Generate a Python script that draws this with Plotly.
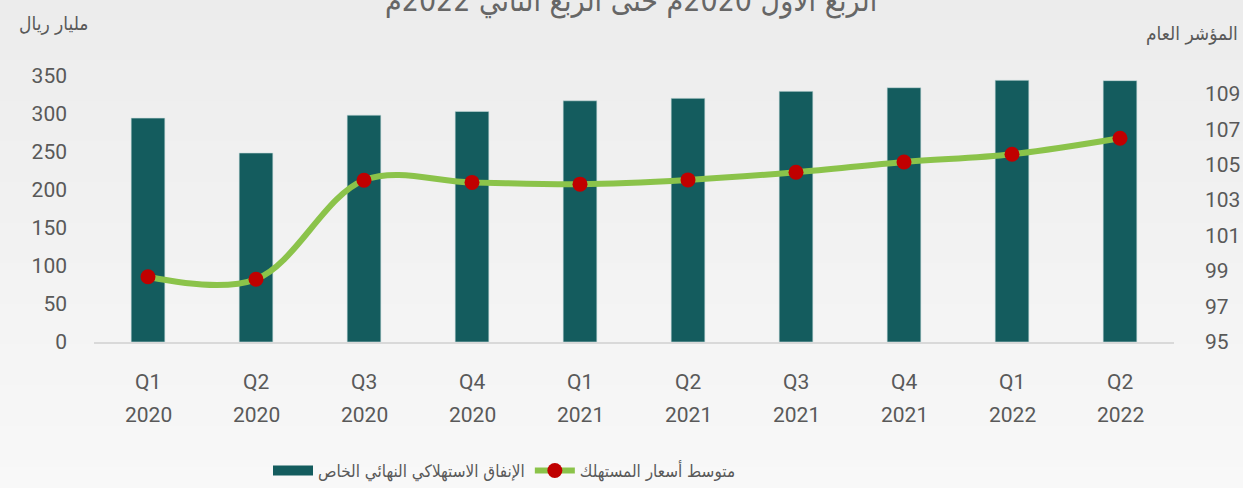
import plotly.graph_objects as go
from plotly.subplots import make_subplots

quarters = ["Q1", "Q2", "Q3", "Q4", "Q1", "Q2", "Q3", "Q4", "Q1", "Q2"]
years = ["2020", "2020", "2020", "2020", "2021", "2021", "2021", "2021", "2022", "2022"]
categories = [f"{q} {y}" for q, y in zip(quarters, years)]

spending = [294.6, 248.7, 298.5, 303.4, 317.4, 320.6, 329.8, 334.6, 344.4, 343.9]
cpi = [98.68, 98.54, 104.12, 104.0, 103.9, 104.14, 104.57, 105.15, 105.59, 106.49]

left_ticks = [0, 50, 100, 150, 200, 250, 300, 350]
right_ticks = [95, 97, 99, 101, 103, 105, 107, 109]

bar_name = "الإنفاق الاستهلاكي النهائي الخاص"
line_name = "متوسط أسعار المستهلك"
left_title = "مليار ريال"
right_title = "المؤشر العام"
title_text = "الربع الأول 2020م حتى الربع الثاني 2022م"

NUM_FONT = "Roboto, 'DejaVu Sans', sans-serif"
AR_FONT = "'DejaVu Sans Condensed', 'DejaVu Sans', sans-serif"
TXT = "#595959"
BAR_COLOR = "#145c5e"

fig = make_subplots(specs=[[{"secondary_y": True}]])

fig.add_trace(go.Bar(
    x=categories, y=spending, name=bar_name, showlegend=False,
    marker=dict(color=BAR_COLOR, line=dict(color="rgba(200,220,220,0.6)", width=1)),
), secondary_y=False)

# legend entry with a wide rectangular swatch, like the reference
fig.add_trace(go.Scatter(
    x=[None], y=[None], name=bar_name, mode="lines",
    line=dict(color=BAR_COLOR, width=15),
), secondary_y=False)

fig.add_trace(go.Scatter(
    x=categories, y=cpi, name=line_name, mode="lines+markers",
    line=dict(color="#8bc34a", width=6, shape="spline", smoothing=1.0),
    marker=dict(color="#c00000", size=15),
), secondary_y=True)

W, H = 1243, 488
L, R, T, B = 94, 69, 76, 146
ph = H - T - B

def py(pix):
    return (H - B - pix) / ph

def px(pix):
    return (pix - L) / (W - L - R)

# background gradient bands
shapes = []
n = 24
for i in range(n):
    c = int(round(0xec + (0xf8 - 0xec) * i / (n - 1)))
    shapes.append(dict(type="rect", xref="paper", yref="paper",
                       x0=px(-5), x1=px(W + 5), y0=py(H * i / n - 1), y1=py(H * (i + 1) / n + 1),
                       fillcolor=f"rgb({c},{c},{c})", line=dict(width=0), layer="below"))

annotations = []
for cat, q, y in zip(categories, quarters, years):
    annotations.append(dict(x=cat, xref="x", y=py(382), yref="paper", text=q, showarrow=False,
                            font=dict(family=NUM_FONT, size=21, color=TXT), yanchor="middle"))
    annotations.append(dict(x=cat, xref="x", y=py(415), yref="paper", text=y, showarrow=False,
                            font=dict(family=NUM_FONT, size=21, color=TXT), yanchor="middle"))

annotations.append(dict(x=px(54), y=py(24), xref="paper", yref="paper", text=left_title,
                        showarrow=False, font=dict(family=AR_FONT, size=19, color=TXT),
                        xanchor="center", yanchor="middle"))
annotations.append(dict(x=px(1240), y=py(34), xref="paper", yref="paper", text=right_title,
                        showarrow=False, font=dict(family=AR_FONT, size=19, color=TXT),
                        xanchor="right", yanchor="middle"))
annotations.append(dict(x=px(631), y=py(0), xref="paper", yref="paper", text=title_text,
                        showarrow=False, font=dict(family=AR_FONT, size=30, color="#666666"),
                        xanchor="center", yanchor="middle"))

fig.update_layout(
    width=W, height=H,
    margin=dict(l=L, r=R, t=T, b=B, pad=0, autoexpand=False),
    paper_bgcolor="#f2f2f2", plot_bgcolor="rgba(0,0,0,0)",
    bargap=0.688,
    showlegend=True,
    legend=dict(orientation="h", x=px(268), xanchor="left", y=py(471), yanchor="middle",
                font=dict(family=AR_FONT, size=17, color=TXT), bgcolor="rgba(0,0,0,0)",
                itemwidth=40, tracegroupgap=0),
    shapes=shapes,
    annotations=annotations,
)

fig.update_xaxes(domain=[0, 1], showticklabels=False, showgrid=False, showline=True,
                 linecolor="#d9d9d9", linewidth=2, zeroline=False, range=[-0.5, 9.5],
                 automargin=False)
fig.update_yaxes(range=[0, 350], tickvals=left_ticks, showgrid=False, zeroline=False,
                 showline=False, ticks="", ticklabelstandoff=26, automargin=False,
                 tickfont=dict(family=NUM_FONT, size=21, color=TXT), secondary_y=False)
fig.update_yaxes(range=[95, 110], tickvals=right_ticks, showgrid=False, zeroline=False,
                 showline=False, ticks="", ticklabelstandoff=30, automargin=False,
                 tickfont=dict(family=NUM_FONT, size=21, color=TXT), secondary_y=True)

fig.write_html("out.html", config={"displayModeBar": False},
               post_script="document.body.style.margin='0';document.body.style.overflow='hidden';")
